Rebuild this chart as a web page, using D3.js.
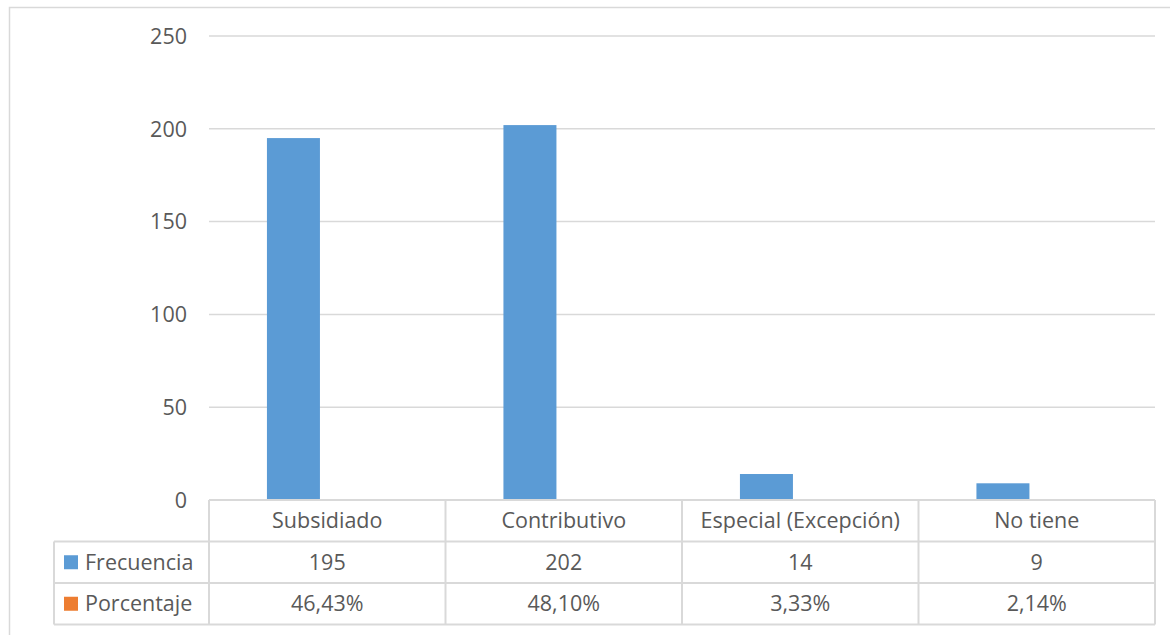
<!DOCTYPE html>
<html>
<head>
<meta charset="utf-8">
<script src="https://cdn.jsdelivr.net/npm/d3@7"></script>
<style>
  body { margin: 0; background: #fff; }
  text { font-family: "Open Sans", sans-serif; fill: #595959; }
</style>
</head>
<body>
<svg id="chart" width="1170" height="635"></svg>
<script>
var categories = ["Subsidiado", "Contributivo", "Especial (Excepción)", "No tiene"];
var series = ["Frecuencia", "Porcentaje"];
var frecuencia = [195, 202, 14, 9];
var porcentaje = [0.4643, 0.4810, 0.0333, 0.0214];
var porcentajeLabels = ["46,43%", "48,10%", "3,33%", "2,14%"];
var yTicks = [0, 50, 100, 150, 200, 250];

var colors = { "Frecuencia": "#5b9bd5", "Porcentaje": "#ed7d31" };
var gridColor = "#d9d9d9";
var fontSize = "21.5px";

var svg = d3.select("#chart");

// chart border (left + top only visible)
svg.append("path")
    .attr("d", "M9.5,635 L9.5,7.5 L1170,7.5")
    .attr("fill", "none")
    .attr("stroke", gridColor)
    .attr("stroke-width", 1.5);

var plotLeft = 209, plotRight = 1155, plotTop = 36, base = 500;
var rowH = 41.5;
var legendLeft = 54;

var x0 = d3.scaleBand().domain(categories).range([plotLeft, plotRight]);
var x1 = d3.scaleBand().domain(series).range([0, x0.bandwidth()])
    .paddingInner(0).paddingOuter(1.231).align(0.444);
var y = d3.scaleLinear().domain([0, 250]).range([base, plotTop]);

// gridlines
svg.append("g").selectAll("line")
    .data(yTicks.filter(function(d) { return d > 0; }))
    .enter().append("line")
    .attr("x1", plotLeft).attr("x2", plotRight)
    .attr("y1", function(d) { return y(d); })
    .attr("y2", function(d) { return y(d); })
    .attr("stroke", gridColor)
    .attr("stroke-width", 1.5);

// y labels
svg.append("g").selectAll("text")
    .data(yTicks)
    .enter().append("text")
    .attr("x", 187)
    .attr("y", function(d) { return y(d); })
    .attr("dy", "0.36em")
    .attr("text-anchor", "end")
    .style("font-size", fontSize)
    .text(function(d) { return d; });

// bars
var rows = categories.map(function(c, i) {
    return { cat: c, values: [
        { s: "Frecuencia", v: frecuencia[i] },
        { s: "Porcentaje", v: porcentaje[i] }
    ] };
});

svg.append("g").selectAll("g")
    .data(rows)
    .enter().append("g")
    .attr("transform", function(d) { return "translate(" + x0(d.cat) + ",0)"; })
    .selectAll("rect")
    .data(function(d) { return d.values; })
    .enter().append("rect")
    .attr("x", function(d) { return x1(d.s); })
    .attr("width", x1.bandwidth())
    .attr("y", function(d) { return y(d.v); })
    .attr("height", function(d) { return base - y(d.v); })
    .attr("fill", function(d) { return colors[d.s]; });

// data table
var table = svg.append("g")
    .attr("stroke", gridColor)
    .attr("stroke-width", 2)
    .attr("fill", "none");

var rowYs = [base, base + rowH, base + 2 * rowH, base + 3 * rowH];
table.append("line").attr("x1", plotLeft).attr("x2", plotRight).attr("y1", rowYs[0]).attr("y2", rowYs[0]);
[1, 2, 3].forEach(function(i) {
    table.append("line").attr("x1", legendLeft).attr("x2", plotRight)
        .attr("y1", rowYs[i]).attr("y2", rowYs[i]);
});
x0.domain().forEach(function(c) {
    table.append("line").attr("x1", x0(c)).attr("x2", x0(c))
        .attr("y1", rowYs[0]).attr("y2", rowYs[3]);
});
table.append("line").attr("x1", plotRight).attr("x2", plotRight).attr("y1", rowYs[0]).attr("y2", rowYs[3]);
table.append("line").attr("x1", legendLeft).attr("x2", legendLeft).attr("y1", rowYs[1]).attr("y2", rowYs[3]);

var cellText = function(txt, cx, ry) {
    svg.append("text")
        .attr("x", cx)
        .attr("y", ry + rowH / 2)
        .attr("dy", "0.36em")
        .attr("text-anchor", "middle")
        .style("font-size", fontSize)
        .text(txt);
};

categories.forEach(function(c, i) {
    var cx = x0(c) + x0.bandwidth() / 2;
    cellText(c, cx, rowYs[0]);
    cellText(frecuencia[i], cx, rowYs[1]);
    cellText(porcentajeLabels[i], cx, rowYs[2]);
});

// legend keys in table
series.forEach(function(s, i) {
    var ry = rowYs[i + 1];
    svg.append("rect")
        .attr("x", 64).attr("y", ry + rowH / 2 - 7)
        .attr("width", 14).attr("height", 14)
        .attr("fill", colors[s]);
    svg.append("text")
        .attr("x", 85)
        .attr("y", ry + rowH / 2)
        .attr("dy", "0.36em")
        .style("font-size", fontSize)
        .text(s);
});
</script>
</body>
</html>
